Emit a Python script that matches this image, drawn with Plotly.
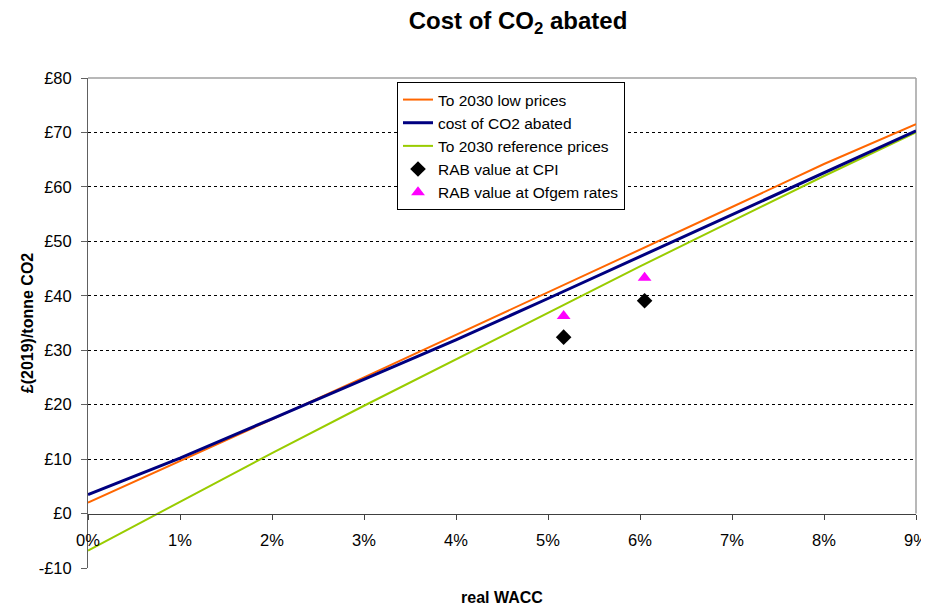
import plotly.graph_objects as go

wacc = [0.00, 0.01, 0.02, 0.03, 0.04, 0.05, 0.06, 0.07, 0.08, 0.09]
low_prices = [2.0, 9.6, 17.3, 25.0, 32.8, 40.6, 48.5, 56.3, 64.2, 71.5]
cost_abated = [3.5, 10.2, 17.4, 24.6, 31.9, 39.5, 47.2, 54.9, 62.6, 70.3]
ref_prices = [-6.8, 2.2, 11.1, 19.8, 28.3, 36.8, 45.4, 53.7, 62.0, 70.0]

rab_x = [0.0517, 0.0605]
rab_cpi = [32.4, 39.1]
rab_ofgem = [36.3, 43.3]

y_ticks = [-10, 0, 10, 20, 30, 40, 50, 60, 70, 80]
y_ticktext = ["-£10", "£0", "£10", "£20", "£30", "£40", "£50", "£60", "£70", "£80"]
grid_vals = [10, 20, 30, 40, 50, 60, 70]
x_ticks = wacc

FONT = "Liberation Sans, Arial, sans-serif"
W, H = 921, 600          # page body has an 8px margin
L, T, R, B = 80, 70, 13, 40
PW, PH = W - L - R, H - T - B

fig = go.Figure()
fig.add_trace(go.Scatter(x=wacc, y=ref_prices, mode="lines", name="To 2030 reference prices",
                         line=dict(color="#99CC00", width=2), legendrank=3))
fig.add_trace(go.Scatter(x=wacc, y=low_prices, mode="lines", name="To 2030 low prices",
                         line=dict(color="#FF6600", width=2), legendrank=1))
fig.add_trace(go.Scatter(x=wacc, y=cost_abated, mode="lines", name="cost of CO2 abated",
                         line=dict(color="#000080", width=3), legendrank=2))
fig.add_trace(go.Scatter(x=rab_x, y=rab_cpi, mode="markers", name="RAB value at CPI",
                         marker=dict(symbol="diamond", color="black", size=12), legendrank=4))
fig.add_trace(go.Scatter(x=rab_x, y=rab_ofgem, mode="markers", name="RAB value at Ofgem rates",
                         marker=dict(symbol="triangle-up", color="#FF00FF", size=12), legendrank=5))
# invisible trace on secondary axis for dashed gridlines
fig.add_trace(go.Scatter(x=[wacc[0]], y=[grid_vals[0]], yaxis="y2", mode="markers",
                         marker=dict(opacity=0), showlegend=False, hoverinfo="skip"))

fig.update_layout(
    width=W, height=H,
    margin=dict(l=L, r=R, t=T, b=B, autoexpand=False),
    paper_bgcolor="white", plot_bgcolor="white",
    font=dict(family=FONT, size=16.5, color="black"),
    title=dict(text="<b>Cost of CO<sub>2</sub> abated</b>", x=510/W, xanchor="center",
               y=1 - 13/H, yanchor="middle", automargin=False,
               font=dict(size=24, family=FONT, color="black")),
    xaxis=dict(range=[0, 0.09], tickvals=x_ticks, tickformat=".0%", anchor="free",
               position=10/90, showline=True, linecolor="#404040", linewidth=1,
               ticks="outside", ticklen=5, tickcolor="#404040", showgrid=False, zeroline=False,
               ticklabelstandoff=7, automargin=False,
               title=dict(text="<b>real WACC</b>", standoff=43, font=dict(size=16))),
    yaxis=dict(range=[-10, 80], tickvals=y_ticks, ticktext=y_ticktext, showline=True,
               linecolor="#606060", linewidth=1, ticks="outside", ticklen=6, tickcolor="#606060",
               showgrid=False, zeroline=False, automargin=False, ticklabelstandoff=6,
               title=dict(text="<b>£(2019)/tonne CO2</b>", standoff=1, font=dict(size=16))),
    yaxis2=dict(range=[-10, 80], overlaying="y", tickvals=grid_vals, showticklabels=False,
                showgrid=True, gridcolor="black", gridwidth=1, griddash="3px,3px",
                zeroline=False, showline=False, automargin=False),
    legend=dict(x=(397 - 8 - L) / PW, y=(H - B - (82 - 8)) / PH, xanchor="left", yanchor="top",
                bgcolor="white", bordercolor="black", borderwidth=1,
                font=dict(size=15.5, family=FONT)),
    shapes=[
        dict(type="line", xref="paper", yref="paper", x0=0, x1=1, y0=1, y1=1, layer="below",
             line=dict(color="#A0A0A0", width=1.5)),
        dict(type="line", xref="paper", yref="paper", x0=1, x1=1, y0=10/90, y1=1, layer="below",
             line=dict(color="#A0A0A0", width=1.5)),
    ],
)

fig.write_html("out.html")
